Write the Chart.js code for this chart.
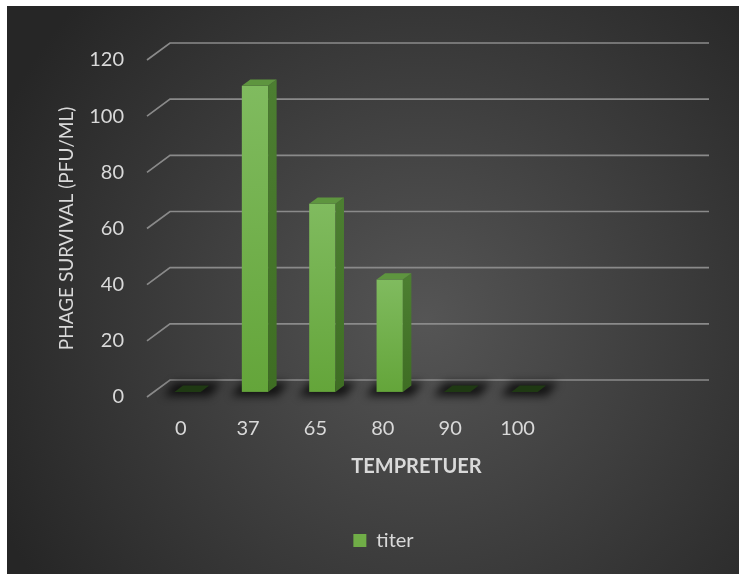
<!DOCTYPE html>
<html>
<head>
<meta charset="utf-8">
<script src="https://cdn.jsdelivr.net/npm/chart.js@4.4.1/dist/chart.umd.min.js"></script>
<style>
  html, body { margin: 0; padding: 0; background: #ffffff; }
  #wrap { width: 739px; height: 574px; position: relative; }
</style>
</head>
<body>
<div id="wrap"><canvas id="c" width="739" height="574"></canvas></div>
<script>
// Temperature categories (two trailing empty slots widen the floor)
const categories = ['0', '37', '65', '80', '90', '100', '', ''];
// Phage titer per temperature
const titer = [0, 109, 67, 40, 0, 0, null, null];
// Value axis
const yMin = 0;
const yMax = 120;
const yStep = 20;

// 3D projection of the floor depth
const DEPTH_X = 23;
const DEPTH_Y = 17;
const BAR_FRONT = 0.30;   // bar front face, as a fraction of the floor depth
const BAR_BACK = 0.67;    // bar back face

const TEXT = '#d9d9d9';
const FONT = 'Lato, "Open Sans", sans-serif';

// Dark radial backdrop
const backdrop = {
  id: 'backdrop',
  beforeDraw(chart) {
    const ctx = chart.ctx;
    ctx.save();
    ctx.fillStyle = '#ffffff';
    ctx.fillRect(0, 0, chart.width, chart.height);
    const g = ctx.createRadialGradient(425, 320, 0, 425, 320, 470);
    g.addColorStop(0, '#555555');
    g.addColorStop(1, '#262626');
    ctx.fillStyle = g;
    ctx.fillRect(7, 6, chart.width - 7, chart.height - 6);
    ctx.restore();
  }
};

// Back wall gridlines with the left side wall diagonals
const wallGrid = {
  id: 'wallGrid',
  beforeDatasetsDraw(chart) {
    const ctx = chart.ctx;
    const ys = chart.scales.y;
    const a = chart.chartArea;
    ctx.save();
    ctx.strokeStyle = '#8a8a8a';
    ctx.lineWidth = 1.7;
    ys.ticks.forEach(t => {
      const y = ys.getPixelForValue(t.value);
      ctx.beginPath();
      ctx.moveTo(a.left, y);
      ctx.lineTo(a.left + DEPTH_X, y - DEPTH_Y);
      ctx.lineTo(a.right + DEPTH_X, y - DEPTH_Y);
      ctx.stroke();
    });
    ctx.restore();
  }
};

function quad(ctx, pts, fill) {
  ctx.beginPath();
  ctx.moveTo(pts[0][0], pts[0][1]);
  for (let i = 1; i < pts.length; i++) ctx.lineTo(pts[i][0], pts[i][1]);
  ctx.closePath();
  ctx.fillStyle = fill;
  ctx.fill();
}

// Columns drawn as boxes from the bar elements' geometry
const columns3d = {
  id: 'columns3d',
  beforeDatasetDraw() { return false; },
  afterDatasetsDraw(chart) {
    const ctx = chart.ctx;
    const meta = chart.getDatasetMeta(0);
    const ox = DEPTH_X * (BAR_BACK - BAR_FRONT);
    const oy = DEPTH_Y * (BAR_BACK - BAR_FRONT);
    ctx.save();
    // base shadows
    meta.data.forEach((el, i) => {
      if (titer[i] == null) return;
      const w = el.width;
      const x0 = el.x - w / 2 + DEPTH_X * BAR_FRONT;
      const x1 = x0 + w;
      const yb = el.base - DEPTH_Y * BAR_FRONT;
      ctx.save();
      ctx.filter = 'blur(4px)';
      quad(ctx, [[x0 - 11, yb + 4], [x1 + 9, yb + 4], [x1 + ox + 12, yb - oy - 3], [x0 + ox - 8, yb - oy - 3]], 'rgba(0,0,0,0.75)');
      ctx.restore();
    });
    meta.data.forEach((el, i) => {
      const v = titer[i];
      if (v == null) return;
      const w = el.width;
      const x0 = el.x - w / 2 + DEPTH_X * BAR_FRONT;
      const x1 = x0 + w;
      const yb = el.base - DEPTH_Y * BAR_FRONT;
      const yt = el.y - DEPTH_Y * BAR_FRONT;
      if (v === 0) {
        quad(ctx, [[x0, yb], [x1, yb], [x1 + ox, yb - oy], [x0 + ox, yb - oy]], '#1f3913');
        return;
      }
      const gf = ctx.createLinearGradient(0, yt, 0, yb);
      gf.addColorStop(0, '#80bb5f');
      gf.addColorStop(1, '#64a53a');
      ctx.fillStyle = gf;
      ctx.fillRect(x0, yt, w, yb - yt);
      const gs = ctx.createLinearGradient(0, yt, 0, yb);
      gs.addColorStop(0, '#4c7e31');
      gs.addColorStop(1, '#3e6d23');
      quad(ctx, [[x1, yt], [x1 + ox, yt - oy], [x1 + ox, yb - oy], [x1, yb]], gs);
      quad(ctx, [[x0, yt], [x1, yt], [x1 + ox, yt - oy], [x0 + ox, yt - oy]], '#5e953f');
    });
    ctx.restore();
  }
};

new Chart(document.getElementById('c'), {
  type: 'bar',
  data: {
    labels: categories,
    datasets: [{
      label: 'titer',
      data: titer,
      backgroundColor: '#70ad47',
      borderWidth: 0,
      categoryPercentage: 1.0,
      barPercentage: 0.39
    }]
  },
  options: {
    responsive: false,
    animation: false,
    devicePixelRatio: 1,
    layout: { padding: { left: 28, right: 0, top: 60, bottom: 13.5 } },
    plugins: {
      tooltip: { enabled: false },
      legend: {
        position: 'bottom',
        labels: {
          color: TEXT,
          font: { family: FONT, size: 20 },
          boxWidth: 13,
          boxHeight: 13,
          padding: 10
        }
      }
    },
    scales: {
      x: {
        grid: { display: false, drawTicks: false },
        border: { display: false },
        ticks: { color: TEXT, font: { family: FONT, size: 20 }, padding: 20, maxRotation: 0, autoSkip: false },
        title: {
          display: true,
          text: 'TEMPRETUER',
          color: TEXT,
          font: { family: FONT, size: 20, weight: 'bold' },
          padding: { top: 0, bottom: 41.5 }
        },
        afterFit(s) { s.height = 123.5; }
      },
      y: {
        min: yMin,
        max: yMax,
        grid: { display: false, drawTicks: false },
        border: { display: false },
        ticks: { stepSize: yStep, color: TEXT, font: { family: FONT, size: 20 }, padding: 23 },
        title: {
          display: true,
          text: 'PHAGE SURVIVAL (PFU/ML)',
          color: TEXT,
          font: { family: FONT, size: 19 },
          padding: { top: 27, bottom: 0 }
        },
        afterFit(s) { s.width = 119; }
      },
      yRight: {
        position: 'right',
        display: true,
        grid: { display: false, drawTicks: false },
        border: { display: false },
        ticks: { display: false },
        afterFit(s) { s.width = 53; }
      }
    }
  },
  plugins: [backdrop, wallGrid, columns3d]
});
</script>
</body>
</html>
